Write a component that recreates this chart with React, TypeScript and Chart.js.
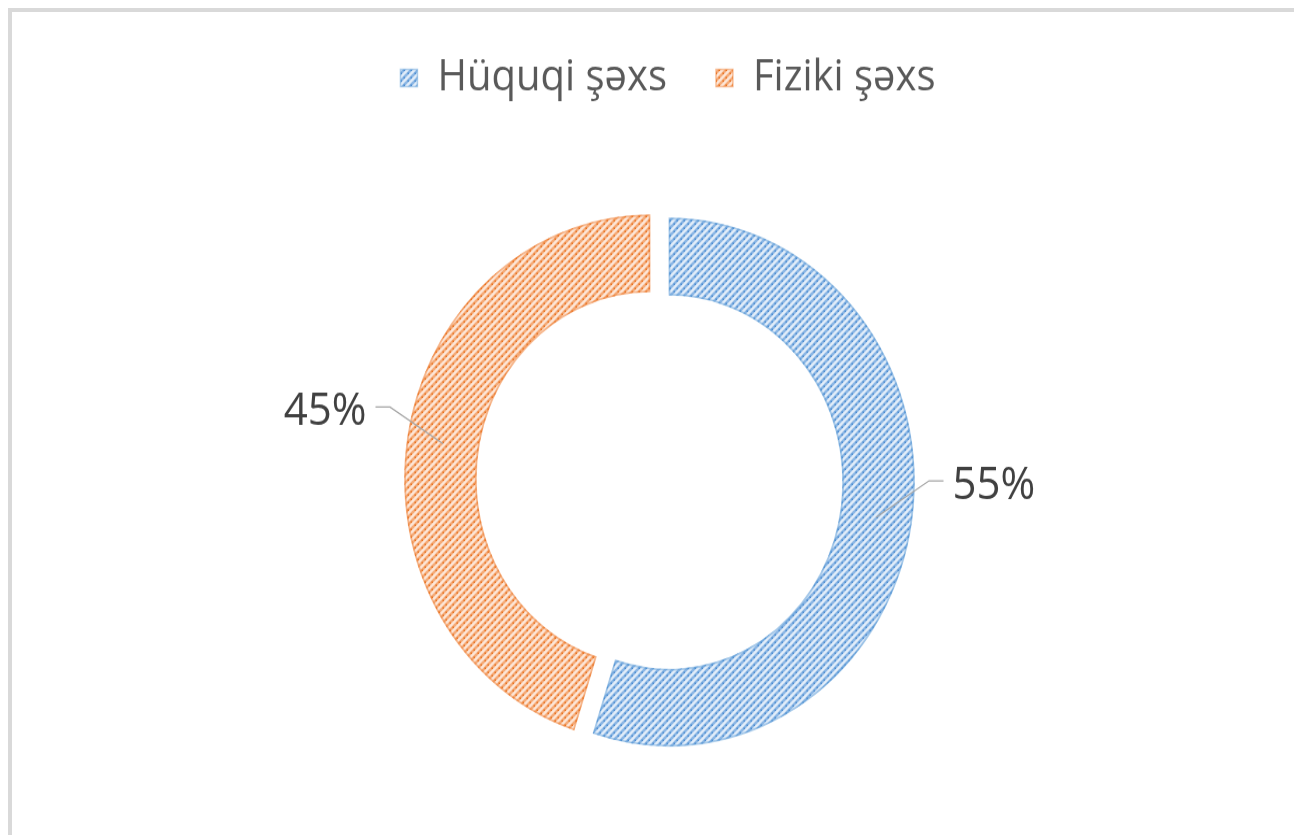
import React, { useEffect, useRef } from 'react';
import { Chart, registerables } from 'chart.js';

Chart.register(...registerables);

// ---- data ----
const categories: string[] = ['Hüquqi şəxs', 'Fiziki şəxs'];
const shares: number[] = [55, 45];
const valueLabels: string[] = ['55%', '45%'];

// ---- styling constants ----
const SY = 1.075; // vertical stretch of the picture
const CW = 1294;
const CH = 900;
const EXPLODE = 9.5;
const LEGEND_SHIFT = 8.5;
const FONT = "'Open Sans', 'Noto Sans', sans-serif";

function makePattern(bg: string, line: string, dot: string): CanvasPattern | string {
  const s = 7;
  const c = document.createElement('canvas');
  c.width = s;
  c.height = s;
  const x = c.getContext('2d');
  if (!x) return bg;
  x.fillStyle = bg;
  x.fillRect(0, 0, s, s);
  x.strokeStyle = line;
  x.lineWidth = 2.6;
  for (const k of [0, s, 2 * s]) {
    x.beginPath();
    x.moveTo(-2, k + 2);
    x.lineTo(k + 2, -2);
    x.stroke();
  }
  x.fillStyle = dot;
  x.fillRect(1.5, 4.5, 1.5, 1.5);
  x.fillRect(4.5, 1.5, 1.5, 1.5);
  const p = x.createPattern(c, 'repeat');
  return p || bg;
}

const explodePlugin = {
  id: 'explodeSlices',
  afterDatasetUpdate(chart: any, args: any) {
    const meta = chart.getDatasetMeta(args.index);
    meta.data.forEach((arc: any) => {
      const mid = (arc.startAngle + arc.endAngle) / 2;
      arc.x += Math.cos(mid) * EXPLODE;
      arc.y += Math.sin(mid) * EXPLODE;
    });
  },
};

const legendShiftPlugin = {
  id: 'legendShift',
  afterLayout(chart: any) {
    if (chart.legend) {
      chart.legend.left += LEGEND_SHIFT;
      chart.legend.right += LEGEND_SHIFT;
    }
  },
};

const leaderPlugin = {
  id: 'leaderLabels',
  afterDatasetsDraw(chart: any) {
    const ctx = chart.ctx as CanvasRenderingContext2D;
    const meta = chart.getDatasetMeta(0);
    ctx.save();
    meta.data.forEach((arc: any, i: number) => {
      const { x, y, startAngle, endAngle, innerRadius, outerRadius } = arc;
      const mid = (startAngle + endAngle) / 2;
      const r = (innerRadius + outerRadius) / 2;
      const ax = x + Math.cos(mid) * r;
      const ay = y + Math.sin(mid) * r;
      const side = Math.cos(mid) >= 0 ? 1 : -1;
      const ex = ax + side * 53;
      const ey = ay - 34;
      const tx = ex + side * 14.5;
      ctx.strokeStyle = '#a6a6a6';
      ctx.lineWidth = 1.3;
      ctx.beginPath();
      ctx.moveTo(ax, ay);
      ctx.lineTo(ex, ey);
      ctx.lineTo(tx, ey);
      ctx.stroke();
      ctx.fillStyle = '#404040';
      ctx.font = `42px ${FONT}`;
      ctx.textAlign = side > 0 ? 'left' : 'right';
      ctx.textBaseline = 'middle';
      ctx.fillText(valueLabels[i], tx + side * 9, ey + 5);
    });
    ctx.restore();
  },
};

export default function App() {
  const ref = useRef<HTMLCanvasElement | null>(null);

  useEffect(() => {
    const canvas = ref.current;
    if (!canvas) return;
    const ctx = canvas.getContext('2d');
    if (!ctx) return;
    const blue = makePattern('#e2edf9', '#8cb7e5', '#4b8bd0');
    const orange = makePattern('#fde6d7', '#f5ab78', '#e8711f');
    const chart = new Chart(ctx, {
      type: 'doughnut',
      data: {
        labels: categories,
        datasets: [
          {
            data: shares,
            backgroundColor: [blue, orange] as any,
            borderColor: ['rgba(91,155,213,0.45)', 'rgba(237,125,49,0.45)'],
            borderWidth: 1.5,
            borderAlign: 'inner',
          },
        ],
      },
      options: {
        responsive: false,
        animation: false,
        radius: 246,
        cutout: '70.5%',
        layout: { padding: { left: 25, right: 0, top: 3.5, bottom: 109 } },
        plugins: {
          tooltip: { enabled: false },
          legend: {
            position: 'top',
            labels: {
              boxWidth: 17,
              boxHeight: 16,
              padding: 49,
              color: '#595959',
              font: { family: FONT, size: 40 },
            },
          },
        },
      } as any,
      plugins: [explodePlugin, legendShiftPlugin, leaderPlugin],
    });
    return () => chart.destroy();
  }, []);

  return (
    <div
      style={{
        position: 'fixed',
        left: 0,
        top: 0,
        width: 1294,
        height: 835,
        overflow: 'hidden',
        background: '#ffffff',
      }}
    >
      <div
        style={{
          position: 'absolute',
          left: 8,
          top: 8,
          width: 1400,
          height: 1000,
          border: '4px solid #d9d9d9',
        }}
      />
      <canvas
        ref={ref}
        width={CW}
        height={CH}
        style={{
          position: 'absolute',
          left: 0,
          top: 0,
          width: `${CW}px`,
          height: `${CH * SY}px`,
        }}
      />
    </div>
  );
}
